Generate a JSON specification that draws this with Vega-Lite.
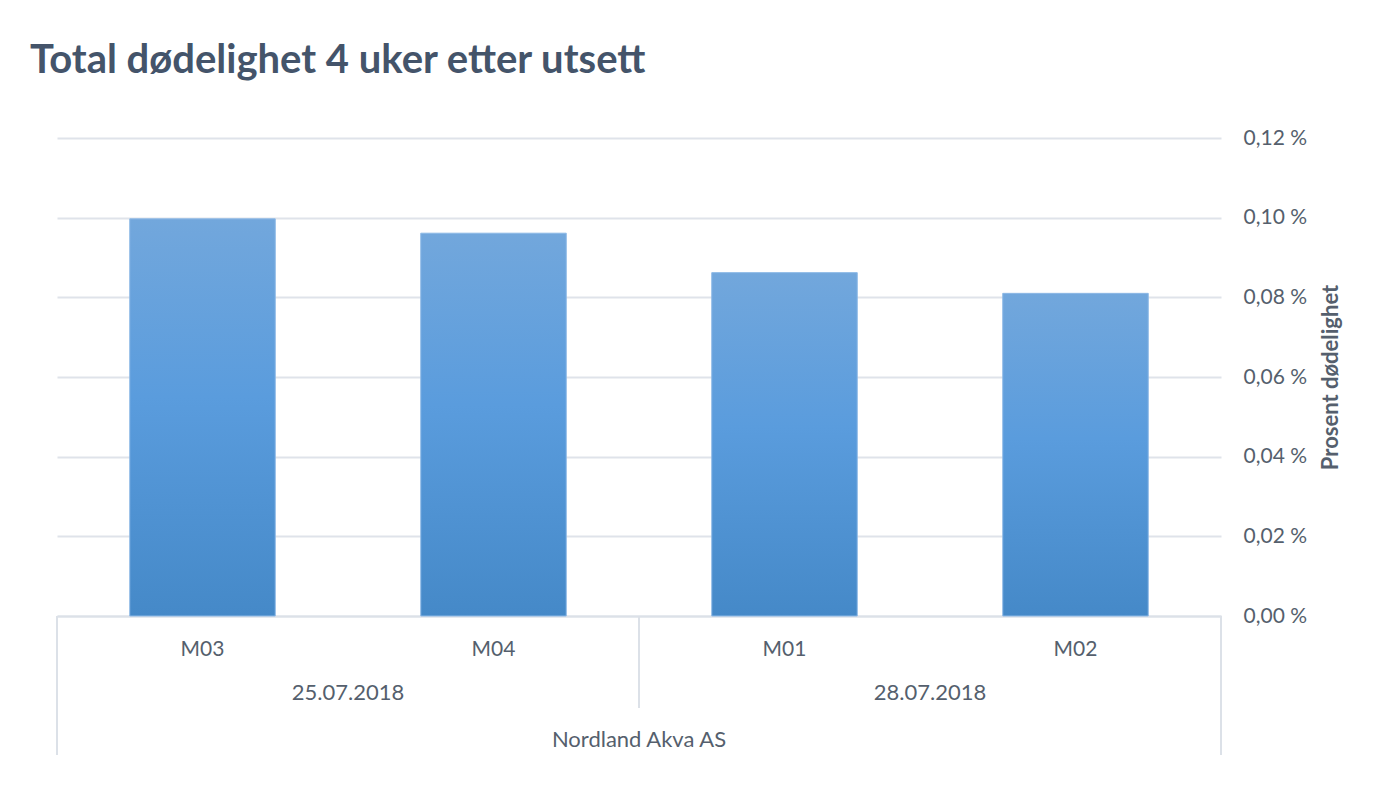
{
  "$schema": "https://vega.github.io/schema/vega-lite/v6.json",
  "width": 1164,
  "height": 478,
  "autosize": {"type": "none"},
  "padding": {"left": 57, "top": 138, "right": 179, "bottom": 169},
  "background": "white",
  "title": {"text": "Total dødelighet 4 uker etter utsett", "anchor": "start", "frame": "group", "dx": -27, "offset": 46, "fontSize": 40, "font": "Lato", "fontWeight": "bold", "color": "#44546a"},
  "config": {"view": {"stroke": null}, "text": {"font": "Lato"}},
  "data": {"values": [
    {"anlegg": "Nordland Akva AS", "dato": "25.07.2018", "merd": "M03", "dodelighet": 0.0997},
    {"anlegg": "Nordland Akva AS", "dato": "25.07.2018", "merd": "M04", "dodelighet": 0.0961},
    {"anlegg": "Nordland Akva AS", "dato": "28.07.2018", "merd": "M01", "dodelighet": 0.0862},
    {"anlegg": "Nordland Akva AS", "dato": "28.07.2018", "merd": "M02", "dodelighet": 0.0810}
  ]},
  "layer": [
    {
      "mark": {"type": "bar", "width": {"band": 0.5}, "stroke": "#8cb8e6", "strokeWidth": 1,
        "color": {"gradient": "linear", "x1": 0, "y1": 0, "x2": 0, "y2": 1, "stops": [
          {"offset": 0, "color": "#72a7dc"},
          {"offset": 0.45, "color": "#5a9cdd"},
          {"offset": 1, "color": "#4589c8"}]}},
      "encoding": {
        "x": {"field": "merd", "type": "nominal", "sort": null,
          "scale": {"paddingInner": 0, "paddingOuter": 0},
          "axis": {"title": null, "labelAngle": 0, "labelFont": "Lato", "labelFontSize": 21, "labelColor": "#555f6d", "ticks": false, "tickSize": 0, "labelPadding": 22, "domainColor": "#dce1e8", "domainWidth": 2, "grid": false}},
        "y": {"field": "dodelighet", "type": "quantitative",
          "scale": {"domain": [0, 0.12], "nice": false, "zero": true},
          "axis": {"orient": "right", "title": "Prosent dødelighet", "titleAngle": 270, "titleFont": "Lato", "titleFontSize": 22, "titleFontWeight": "bold", "titleColor": "#555f6d", "titlePadding": 36,
            "values": [0, 0.02, 0.04, 0.06, 0.08, 0.1, 0.12],
            "labelExpr": "replace(format(datum.value, '.2f'), '.', ',') + ' %'",
            "labelFont": "Lato", "labelFontSize": 21, "labelColor": "#555f6d", "labelPadding": 22,
            "ticks": false, "tickSize": 0, "domain": false, "grid": true, "gridColor": "#dfe3ea", "gridWidth": 2}}
      }
    },
    {
      "transform": [{"filter": "datum.merd == 'M03'"}],
      "mark": {"type": "rule", "color": "#dce1e8", "strokeWidth": 2},
      "encoding": {
        "x": {"field": "merd", "type": "nominal", "sort": null, "bandPosition": 0},
        "y": {"datum": 0, "scale": {"domain": [0, 0.12], "nice": false}},
        "y2": {"datum": -0.0349}
      }
    },
    {
      "transform": [{"filter": "datum.merd == 'M02'"}],
      "mark": {"type": "rule", "color": "#dce1e8", "strokeWidth": 2},
      "encoding": {
        "x": {"field": "merd", "type": "nominal", "sort": null, "bandPosition": 1},
        "y": {"datum": 0, "scale": {"domain": [0, 0.12], "nice": false}},
        "y2": {"datum": -0.0349}
      }
    },
    {
      "transform": [{"filter": "datum.merd == 'M01'"}],
      "mark": {"type": "rule", "color": "#dce1e8", "strokeWidth": 2},
      "encoding": {
        "x": {"field": "merd", "type": "nominal", "sort": null, "bandPosition": 0},
        "y": {"datum": 0, "scale": {"domain": [0, 0.12], "nice": false}},
        "y2": {"datum": -0.0231}
      }
    },
    {
      "transform": [{"filter": "datum.merd == 'M04' || datum.merd == 'M02'"}],
      "mark": {"type": "text", "font": "Lato", "fontSize": 22, "color": "#555f6d", "baseline": "alphabetic", "align": "center", "dy": 84},
      "encoding": {
        "x": {"field": "merd", "type": "nominal", "sort": null, "bandPosition": 0},
        "y": {"datum": 0, "scale": {"domain": [0, 0.12], "nice": false}},
        "text": {"field": "dato"}
      }
    },
    {
      "transform": [{"filter": "datum.merd == 'M01'"}],
      "mark": {"type": "text", "font": "Lato", "fontSize": 22, "color": "#555f6d", "baseline": "alphabetic", "align": "center", "dy": 131},
      "encoding": {
        "x": {"field": "merd", "type": "nominal", "sort": null, "bandPosition": 0},
        "y": {"datum": 0, "scale": {"domain": [0, 0.12], "nice": false}},
        "text": {"field": "anlegg"}
      }
    }
  ]
}
